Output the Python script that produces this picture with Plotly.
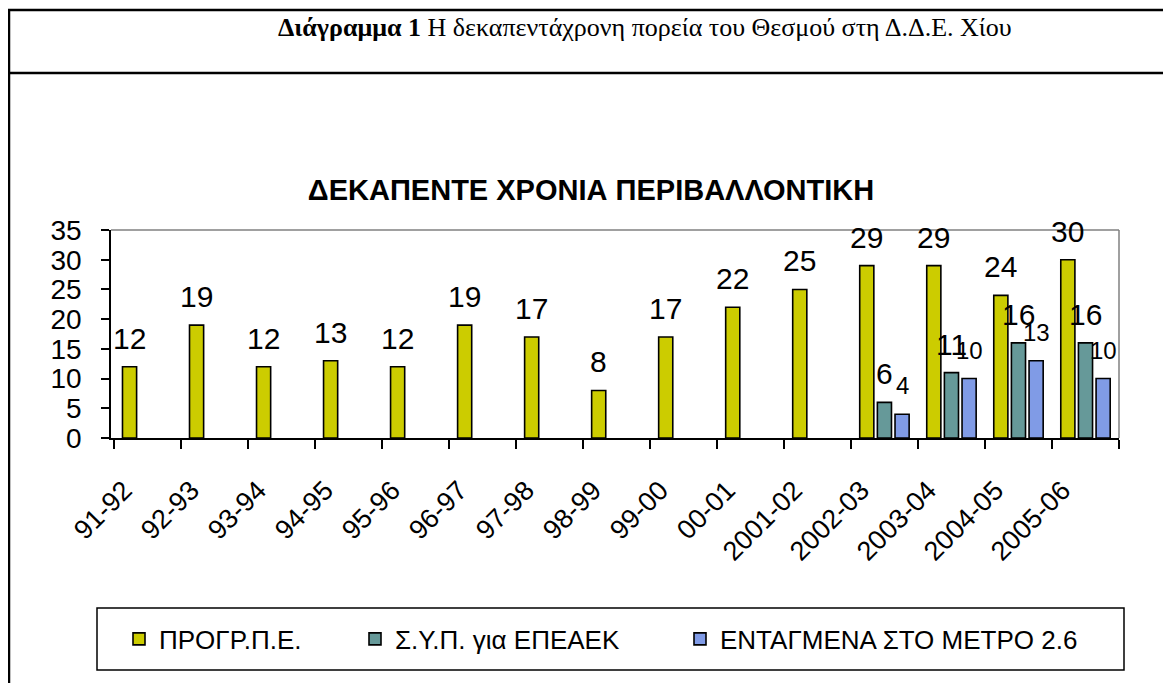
import plotly.graph_objects as go

categories = ["91-92", "92-93", "93-94", "94-95", "95-96", "96-97", "97-98", "98-99",
              "99-00", "00-01", "2001-02", "2002-03", "2003-04", "2004-05", "2005-06"]
progr_pe = [12, 19, 12, 13, 12, 19, 17, 8, 17, 22, 25, 29, 29, 24, 30]
syp_epeaek = [None] * 11 + [6, 11, 16, 16]
entagmena = [None] * 11 + [4, 10, 13, 10]

series_names = ["ΠΡΟΓΡ.Π.Ε.", "Σ.Υ.Π. για ΕΠΕΑΕΚ", "ΕΝΤΑΓΜΕΝΑ ΣΤΟ ΜΕΤΡΟ 2.6"]
series_values = [progr_pe, syp_epeaek, entagmena]
series_colors = ["#CCCC00", "#669999", "#809BE6"]
label_sizes = [30, 30, 24]
label_lift = [10, 10, 13]
label_xshift = [-17.7, 0, 17.7]
legend_widths = [191, 280, 375]

# page has an 8px body margin; figure pixel = screen pixel - 8
OFF = 8
W, H = 1171 - OFF, 683 - OFF
L, R, T, B = 111 - OFF, 1119 - OFF, 230 - OFF, 438 - OFF


def px_x(p):  # screen px -> paper x
    return (p - OFF - L) / (R - L)


def px_y(p):  # screen px -> paper y
    return (B - (p - OFF)) / (B - T)


SANS = "Liberation Sans, Arial, sans-serif"
SERIF = "Liberation Serif, Times New Roman, serif"

fig = go.Figure()
for name, vals, col, lw in zip(series_names, series_values, series_colors, legend_widths):
    fig.add_trace(go.Bar(
        x=categories, y=vals, name=name,
        marker=dict(color=col, line=dict(color="black", width=1.6)),
        legendwidth=lw, hoverinfo="x+y+name",
    ))

annotations = []
for vals, fs, lift, xs in zip(series_values, label_sizes, label_lift, label_xshift):
    for c, v in zip(categories, vals):
        if v is None:
            continue
        annotations.append(dict(
            x=c, y=v, xref="x", yref="y", text=str(v), showarrow=False,
            xanchor="center", yanchor="bottom", xshift=xs, yshift=lift,
            font=dict(size=fs, family=SANS, color="black")))

annotations.append(dict(
    text="<b>Διάγραμμα 1</b> Η δεκαπεντάχρονη πορεία του Θεσμού στη Δ.Δ.Ε. Χίου",
    xref="paper", yref="paper", x=px_x(645), y=px_y(28),
    xanchor="center", yanchor="middle", showarrow=False,
    font=dict(size=26, family=SERIF, color="black")))

shapes = [
    # plot-area gray border top and right
    dict(type="line", xref="paper", yref="paper", x0=0, x1=1, y0=1, y1=1,
         line=dict(color="#808080", width=1.5)),
    dict(type="line", xref="paper", yref="paper", x0=1, x1=1, y0=0, y1=1,
         line=dict(color="#808080", width=1.5)),
    # outer table borders
    dict(type="line", xref="paper", yref="paper", x0=px_x(9), x1=px_x(9),
         y0=px_y(9), y1=px_y(700), line=dict(color="black", width=2.5)),
    dict(type="line", xref="paper", yref="paper", x0=px_x(8), x1=px_x(1180),
         y0=px_y(10), y1=px_y(10), line=dict(color="black", width=2.5)),
    dict(type="line", xref="paper", yref="paper", x0=px_x(8), x1=px_x(1180),
         y0=px_y(73), y1=px_y(73), line=dict(color="black", width=2.5)),
    # legend box
    dict(type="rect", xref="paper", yref="paper", x0=px_x(97), x1=px_x(1124),
         y0=px_y(670), y1=px_y(608), line=dict(color="black", width=1.5)),
]

fig.update_layout(
    width=W, height=H,
    margin=dict(l=L, r=W - R, t=T, b=H - B, pad=0),
    paper_bgcolor="white", plot_bgcolor="white",
    barmode="group", bargap=0.21, bargroupgap=0.2,
    font=dict(family=SANS, color="black"),
    title=dict(text="<b>ΔΕΚΑΠΕΝΤΕ ΧΡΟΝΙΑ ΠΕΡΙΒΑΛΛΟΝΤΙΚΗ</b>",
               font=dict(size=29, family=SANS, color="black"),
               x=(591 - OFF) / W, xanchor="center", xref="container",
               y=1 - (190 - OFF) / H, yanchor="middle", yref="container"),
    xaxis=dict(type="category", tickson="boundaries", ticks="outside", ticklen=9,
               tickcolor="black", tickwidth=1.5, showline=True, linecolor="black",
               linewidth=1.5, tickangle=-45, tickfont=dict(size=27, family=SANS),
               showgrid=False, ticklabelstandoff=24, ticklabelshift=-23),
    yaxis=dict(range=[0, 35], dtick=5, ticks="outside", ticklen=8, tickcolor="black",
               tickwidth=1.5, showline=True, linecolor="black", linewidth=1.5,
               tickfont=dict(size=28, family=SANS), showgrid=False, zeroline=False,
               ticklabelstandoff=14),
    legend=dict(orientation="h", x=px_x(119), xanchor="left", y=px_y(639),
                yanchor="middle", font=dict(size=26, family=SANS),
                bgcolor="rgba(0,0,0,0)", borderwidth=0, traceorder="normal"),
    shapes=shapes,
    annotations=annotations,
)

fig.write_html("out.html")
